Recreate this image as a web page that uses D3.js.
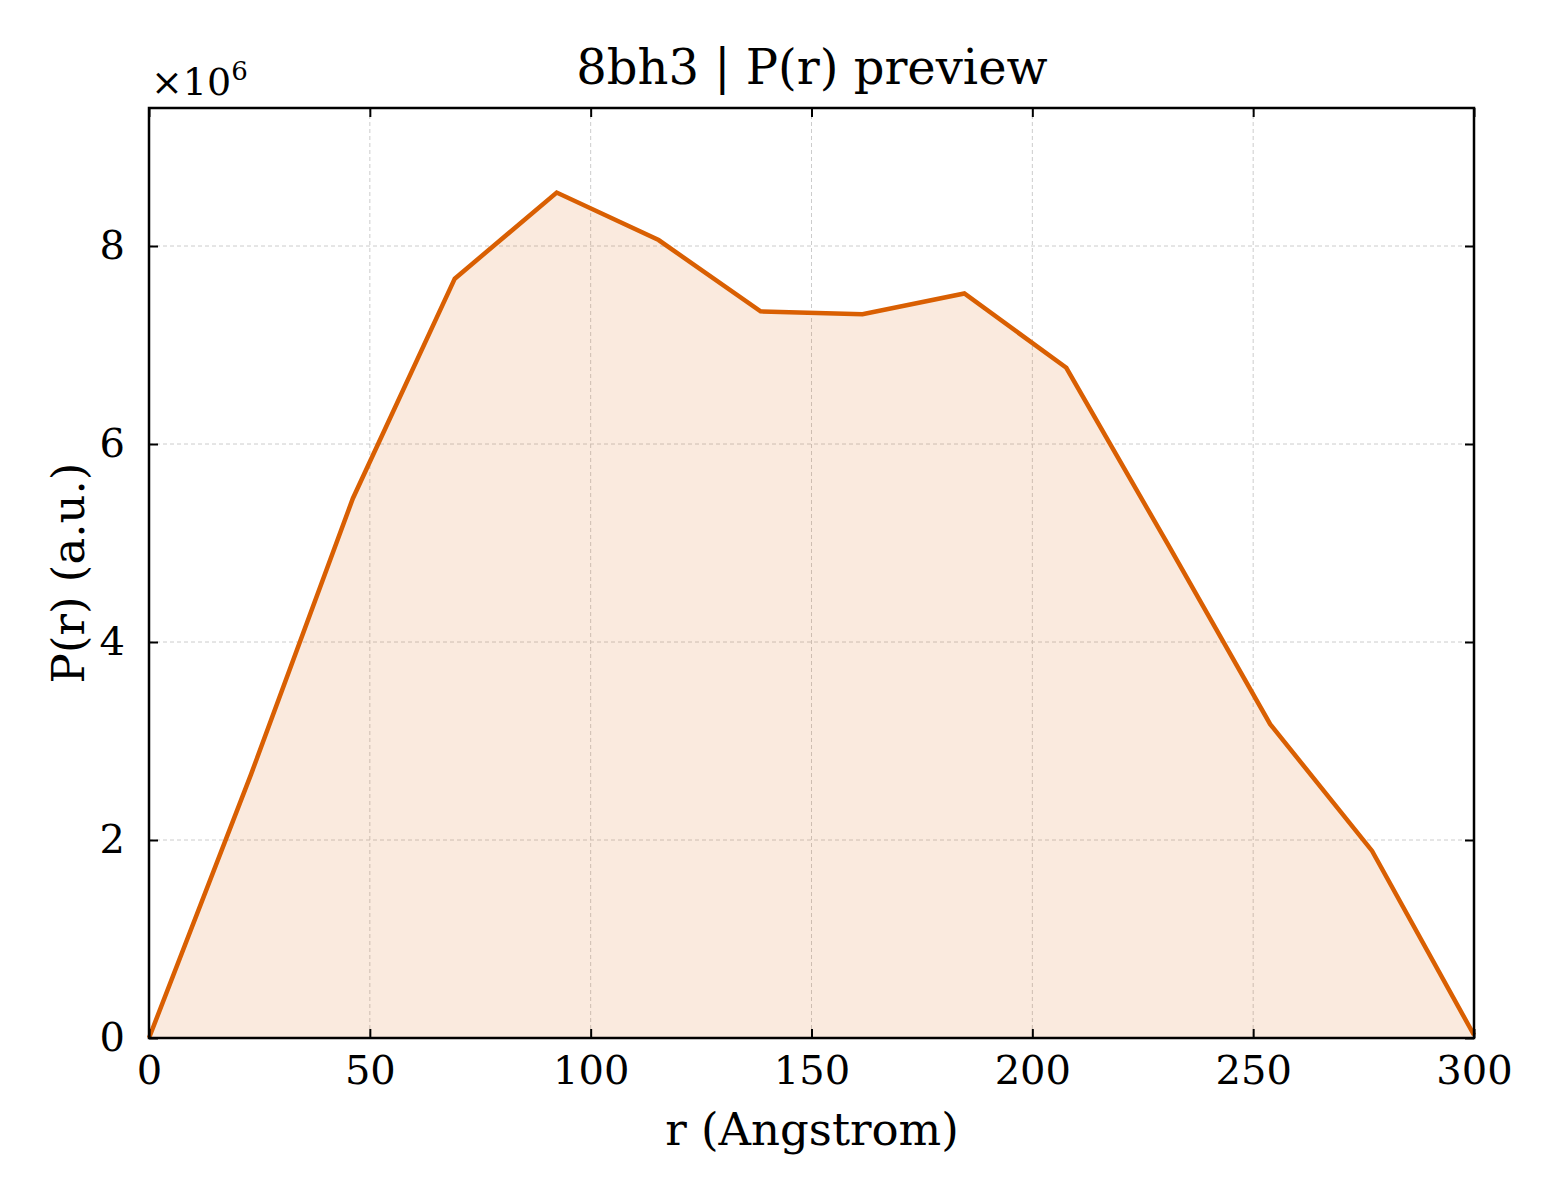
<!DOCTYPE html>
<html><head><meta charset="utf-8">
<script src="https://cdn.jsdelivr.net/npm/d3@7"></script>
<style>body{margin:0;background:#fff}text{font-family:"DejaVu Serif",serif}</style>
</head><body><svg id="c" width="1560" height="1200"></svg>
<script>
const rValues = d3.range(14).map(i => i * 300 / 13);
const prValues = [0, 2.66, 5.45, 7.67, 8.54, 8.06, 7.34, 7.31, 7.52, 6.77, 4.98, 3.17, 1.89, 0.03];
const xTicks = [0, 50, 100, 150, 200, 250, 300];
const yTicks = [0, 2, 4, 6, 8];
const data = rValues.map((r, i) => ({r, p: prValues[i]}));

const svg = d3.select("#c");
const L = 149, R = 1474, T = 108, B = 1038;
const x = d3.scaleLinear().domain([0, 300]).range([L, R]);
const y = d3.scaleLinear().domain([0, 9.394]).range([B, T]);

const g = svg.append("g");
g.selectAll(".gx").data(xTicks).enter().append("line")
  .attr("x1", d => x(d)).attr("x2", d => x(d)).attr("y1", T).attr("y2", B)
  .attr("stroke", "#ccc").attr("stroke-width", 1).attr("stroke-dasharray", "4,3");
g.selectAll(".gy").data(yTicks).enter().append("line")
  .attr("y1", d => y(d)).attr("y2", d => y(d)).attr("x1", L).attr("x2", R)
  .attr("stroke", "#ccc").attr("stroke-width", 1).attr("stroke-dasharray", "4,3");

svg.append("path").datum(data)
  .attr("d", d3.area().x(d => x(d.r)).y0(y(0)).y1(d => y(d.p)))
  .attr("fill", "#d95f02").attr("fill-opacity", 0.13);
svg.append("path").datum(data)
  .attr("d", d3.line().x(d => x(d.r)).y(d => y(d.p)))
  .attr("fill", "none").attr("stroke", "#d95f02").attr("stroke-width", 4.5);

svg.append("rect").attr("x", L).attr("y", T).attr("width", R - L).attr("height", B - T)
  .attr("fill", "none").attr("stroke", "#000").attr("stroke-width", 2.5);

const ax = svg.append("g").attr("transform", `translate(0,${B})`)
  .call(d3.axisBottom(x).tickValues(xTicks).tickSizeInner(-9).tickSizeOuter(0).tickPadding(18));
const axT = svg.append("g").attr("transform", `translate(0,${T})`)
  .call(d3.axisTop(x).tickValues(xTicks).tickSizeInner(-9).tickSizeOuter(0).tickFormat(""));
const ay = svg.append("g").attr("transform", `translate(${L},0)`)
  .call(d3.axisLeft(y).tickValues(yTicks).tickSizeInner(-9).tickSizeOuter(0).tickPadding(24));
const ayR = svg.append("g").attr("transform", `translate(${R},0)`)
  .call(d3.axisRight(y).tickValues(yTicks).tickSizeInner(-9).tickSizeOuter(0).tickFormat(""));
[ax, axT, ay, ayR].forEach(a => {
  a.select(".domain").remove();
  a.selectAll("line").attr("stroke-width", 2);
  a.selectAll("text").attr("font-size", 40).attr("fill", "#000").style("font-family", '"DejaVu Serif",serif');
});

svg.append("text").attr("x", 812).attr("y", 84).attr("text-anchor", "middle").attr("font-size", 48).text("8bh3 | P(r) preview");
svg.append("text").attr("x", 812).attr("y", 1145).attr("text-anchor", "middle").attr("font-size", 45).text("r (Angstrom)");
svg.append("text").attr("transform", "translate(84,573) rotate(-90)").attr("text-anchor", "middle").attr("font-size", 45).text("P(r) (a.u.)");
const m = svg.append("text").attr("x", 151).attr("y", 95).attr("font-size", 38).text("×10");
m.append("tspan").attr("dy", -15).attr("font-size", 26).text("6");
</script></body></html>
